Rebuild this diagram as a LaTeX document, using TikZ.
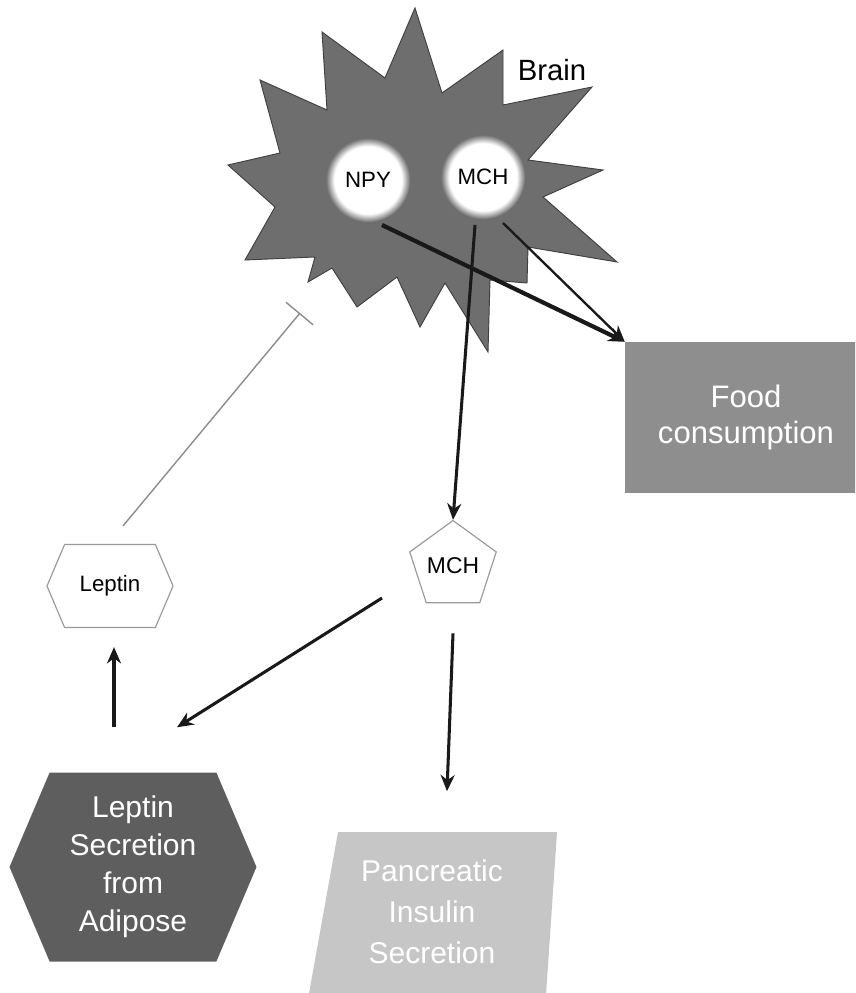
\documentclass[tikz,border=0pt]{standalone}
\usepackage{fontspec}
\setmainfont{Liberation Sans}
\usetikzlibrary{arrows.meta,shapes.geometric,shapes.symbols}

\definecolor{brainfill}{HTML}{6E6E6E}
\definecolor{foodfill}{HTML}{8E8E8E}
\definecolor{lsecfill}{HTML}{5E5E5E}
\definecolor{pancfill}{HTML}{C6C6C6}
\definecolor{edgegray}{HTML}{9A9A9A}
\definecolor{inhgray}{HTML}{8C8C8C}
\newcommand{\fs}[2]{\fontsize{#1}{#2}\selectfont}
\pgfdeclareradialshading{halo}{\pgfpoint{0bp}{0bp}}{color(0bp)=(white);
  color(20bp)=(white); color(25bp)=(brainfill); color(50bp)=(brainfill)}

\begin{document}
\begin{tikzpicture}[x=0.03cm, y=-0.03cm,
  every node/.style={inner sep=0pt},
  arr/.style={-{Stealth[length=14pt,width=12pt]}, line width=2.6pt, black!90},
  inh/.style={-{Bar[width=30pt,line width=1.2pt]}, line width=1.2pt, inhgray},
  glow/.style={circle, shading=halo, minimum size=72pt, font=\fs{19pt}{22pt}},
  bigtxt/.style={text=white, align=center},
  hexnode/.style={signal, signal to=east and west, signal pointer angle=134}]
\clip (0,0) rectangle (855,993);

% brain
\filldraw[fill=brainfill, draw=black!75, line width=0.8pt]
  (415,8) -- (442,93) -- (503,50) -- (503,105) -- (592,87) -- (528,160)
  -- (603,170) -- (543,197) -- (617,262) -- (528,247) -- (527,283)
  -- (490,280) -- (488,352) -- (445,283) -- (420,327) -- (397,277)
  -- (357,307) -- (332,268) -- (308,282) -- (315,257) -- (245,260)
  -- (275,207) -- (228,165) -- (280,153) -- (260,80) -- (327,110)
  -- (322,32) -- (385,78) -- cycle;
\node[font=\fs{25pt}{30pt}] (brain) at (552,70) {Brain};
\node[glow] (npy) at (368,180) {NPY};
\node[glow] (mch) at (483,177) {MCH};

% targets
\node[rectangle, fill=foodfill, bigtxt, minimum width=206.6pt, minimum height=128.9pt,
  font=\fs{26.5pt}{30.7pt}] (food) at (746,417.5) {Food\\consumption};
\node[regular polygon, regular polygon sides=5, draw=edgegray, line width=1pt, fill=white,
  minimum size=66.6pt, font=\fs{19.5pt}{22pt}] (mchp) at (453,566) {MCH};
\node[hexnode, draw=edgegray, line width=1pt, fill=white, minimum width=107.6pt,
  minimum height=70.8pt, font=\fs{19pt}{22pt}] (leptin) at (110,586) {Leptin};
\node[hexnode, fill=lsecfill, bigtxt, minimum width=210.8pt, minimum height=161.3pt,
  font=\fs{25.6pt}{32.4pt}] (lsec) at (133,867) {Leptin\\Secretion\\from\\Adipose};
\fill[pancfill] (338,832) -- (557,832) -- (545,1010) -- (306,1010) -- cycle;
\node[bigtxt, minimum height=137.4pt, font=\fs{25.6pt}{35pt}] (panc) at (432,912)
  {Pancreatic\\Insulin\\Secretion};

% connectors
\coordinate (blk) at (300,313);
\draw[inh] ([shift={(13,-18)}]leptin.north) -- (blk);
\draw[arr, line width=3.6pt] ([shift={(14,45)}]npy.center) -- (food.north west);
\draw[arr] ([shift={(-8,48)}]mch.center) -- (mchp.corner 1);
\draw[arr, line width=2pt] ([shift={(20,46)}]mch.center) -- (food.north west);
\draw[arr] ([shift={(-71,32)}]mchp.center) -- ([shift={(44,-45)}]lsec.north);
\draw[arr] ([shift={(0,30)}]mchp.south) -- ([shift={(15,-40)}]panc.north);
\draw[arr] ([shift={(-19,-45)}]lsec.north) -- ([shift={(4,19)}]leptin.south);
\end{tikzpicture}
\end{document}
